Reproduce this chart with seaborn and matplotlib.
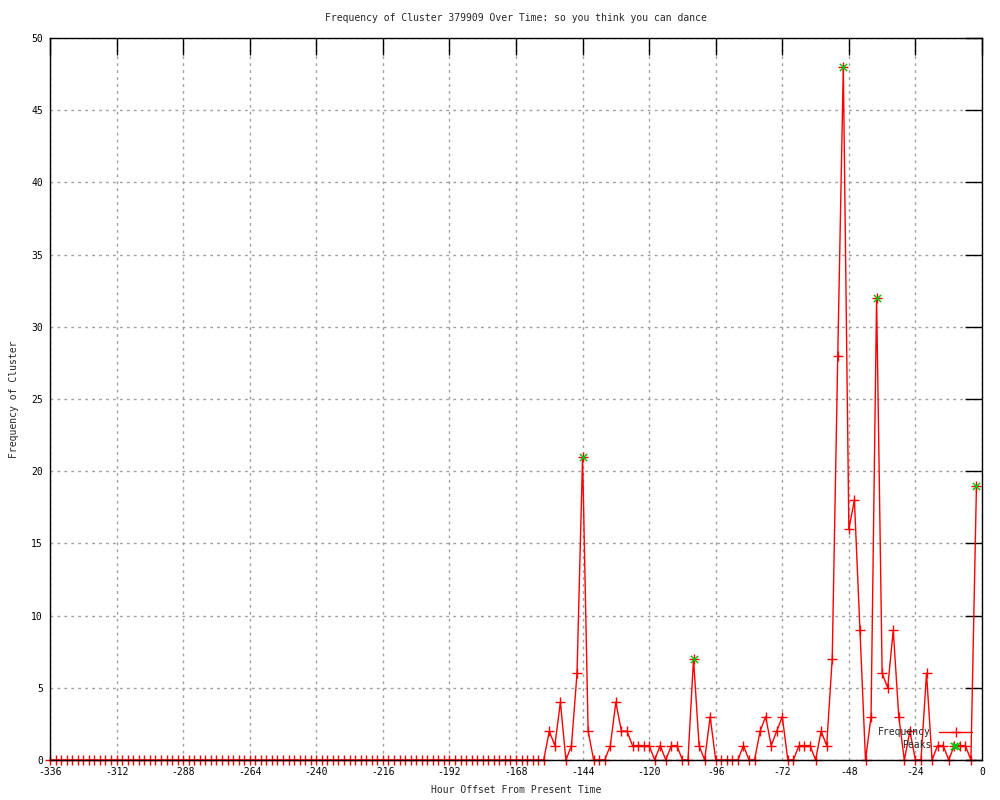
import matplotlib
matplotlib.use("Agg")
import matplotlib.pyplot as plt
import seaborn as sns
import pandas as pd

# ---- data ----
hours = list(range(-336, 0, 2))  # hour offsets, every 2 hours
frequency = [
    0, 0, 0, 0, 0, 0, 0, 0, 0, 0, 0, 0, 0, 0, 0, 0, 0, 0, 0, 0,
    0, 0, 0, 0, 0, 0, 0, 0, 0, 0, 0, 0, 0, 0, 0, 0, 0, 0, 0, 0,
    0, 0, 0, 0, 0, 0, 0, 0, 0, 0, 0, 0, 0, 0, 0, 0, 0, 0, 0, 0,
    0, 0, 0, 0, 0, 0, 0, 0, 0, 0, 0, 0, 0, 0, 0, 0, 0, 0, 0, 0,
    0, 0, 0, 0, 0, 0, 0, 0, 0, 0,
    # -156 .. -2
    2, 1, 4, 0, 1, 6, 21, 2, 0, 0,
    0, 1, 4, 2, 2, 1, 1, 1, 1, 0,
    1, 0, 1, 1, 0, 0, 7, 1, 0, 3,
    0, 0, 0, 0, 0, 1, 0, 0, 2, 3,
    1, 2, 3, 0, 0, 1, 1, 1, 0, 2,
    1, 7, 28, 48, 16, 18, 9, 0, 3, 32,
    6, 5, 9, 3, 0, 2, 0, 0, 6, 0,
    1, 1, 0, 1, 1, 1, 0, 19,
]
peak_hours = [-144, -104, -50, -38, -10, -2]
peak_values = [21, 7, 48, 32, 1, 19]

title = "Frequency of Cluster 379909 Over Time: so you think you can dance"
x_label = "Hour Offset From Present Time"
y_label = "Frequency of Cluster"
x_ticks = [-336, -312, -288, -264, -240, -216, -192, -168, -144, -120, -96, -72, -48, -24, 0]
y_ticks = [0, 5, 10, 15, 20, 25, 30, 35, 40, 45, 50]

df = pd.DataFrame({"hour": hours, "freq": frequency})
peaks = pd.DataFrame({"hour": peak_hours, "freq": peak_values})

sns.set_style("white")
plt.rcParams["font.family"] = ["DejaVu Sans Mono", "DejaVu Sans"]
plt.rcParams["font.size"] = 7

fig = plt.figure(figsize=(10, 8), dpi=100)
ax = fig.add_axes([0.05, 0.05, 0.932, 0.9025])

sns.lineplot(data=df, x="hour", y="freq", ax=ax, color="red", linewidth=1,
             marker="+", markersize=7, markeredgewidth=1, markeredgecolor="red",
             errorbar=None, label="Frequency", zorder=3, clip_on=False)
sns.scatterplot(data=peaks, x="hour", y="freq", ax=ax, color="#00c000",
                marker="x", s=28, linewidth=1, label="Peaks", zorder=4, clip_on=False)

ax.set_xlim(-336, 0)
ax.set_ylim(0, 50)
ax.set_xticks(x_ticks)
ax.set_yticks(y_ticks)
ax.set_xticklabels([str(t) for t in x_ticks])
ax.set_yticklabels([str(t) for t in y_ticks])
ax.tick_params(direction="in", length=12, width=1, top=True, right=True,
               labelsize=7, pad=5, colors="black")
ax.grid(True, linestyle=(0, (2, 3)), color="#a0a0a0", linewidth=1)
ax.set_axisbelow(True)
for s in ax.spines.values():
    s.set_color("black")
    s.set_linewidth(1)
    s.set_zorder(5)

ax.set_title(title, fontsize=7, pad=12)
ax.set_xlabel(x_label, fontsize=7, labelpad=6)
ax.set_ylabel(y_label, fontsize=7, labelpad=9)

leg = ax.legend(loc="lower right", bbox_to_anchor=(0.9935, 0.008), frameon=False,
                markerfirst=False, handlelength=3.4, handletextpad=0.8,
                labelspacing=0.3, fontsize=7, borderaxespad=0.0)

fig.savefig("out.png", dpi=100, facecolor="white")
